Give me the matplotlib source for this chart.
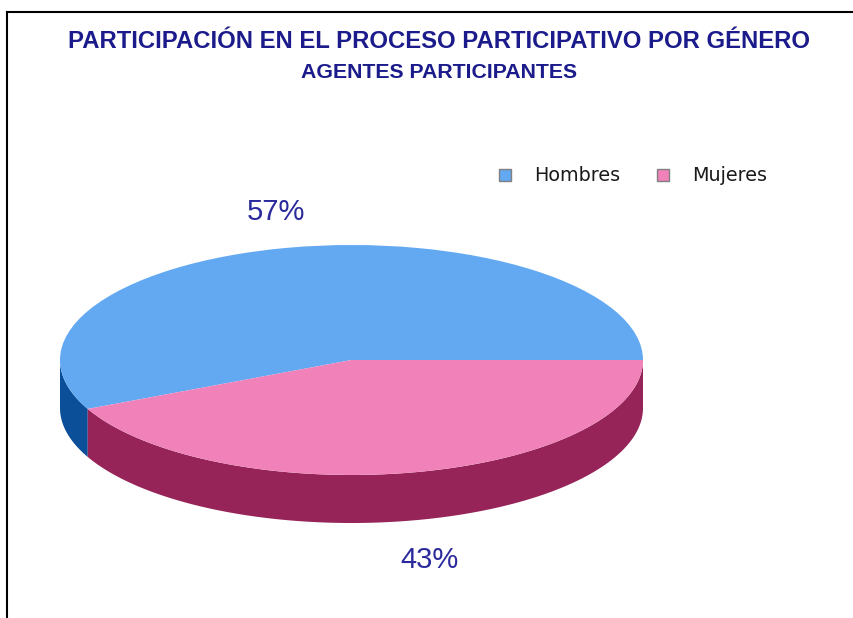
import numpy as np
import matplotlib
matplotlib.use('Agg')
import matplotlib.pyplot as plt
from matplotlib.patches import Polygon
from matplotlib.lines import Line2D

# data
labels = ['Hombres', 'Mujeres']
values = [57, 43]
top_colors = ['#62a9f2', '#f081b9']
side_colors = ['#0a4f97', '#962459']
pct_labels = ['57%', '43%']

W, H = 854, 618
fig = plt.figure(figsize=(W / 100, H / 100), dpi=100)
fig.patch.set_facecolor('white')

# pie ellipse in pixels: centre, radii, depth
cx, cy, rx, ry, depth = 351.5, 360, 291.5, 115, 48
ax = fig.add_axes([0, 0, 1, 1])

wedges, _ = ax.pie(values, colors=top_colors, startangle=0, counterclock=True,
                   wedgeprops=dict(linewidth=0, antialiased=True))
ax.set_aspect('auto')
ax.set_xlim(-cx / rx, (W - cx) / rx)
ax.set_ylim(-(H - cy) / ry, cy / ry)
ax.axis('off')

# side walls (front half only, 180..360 deg)
d = depth / ry
fracs = np.array(values) / np.sum(values)
edges = np.concatenate([[0], np.cumsum(fracs) * 360])
for i in range(len(values)):
    a1, a2 = max(edges[i], 180), min(edges[i + 1], 360)
    if a2 <= a1:
        continue
    t = np.radians(np.linspace(a1, a2, 200))
    top = np.column_stack([np.cos(t), np.sin(t)])
    bot = np.column_stack([np.cos(t[::-1]), np.sin(t[::-1]) - d])
    ax.add_patch(Polygon(np.vstack([top, bot]), closed=True,
                         facecolor=side_colors[i], edgecolor='none', zorder=0))

# percentage labels
pct_pos = [(276, 212), (430, 560)]
for txt, (px, py) in zip(pct_labels, pct_pos):
    fig.text(px / W, 1 - py / H, txt, ha='center', va='center', fontsize=21,
             color='#2a2a9c', family='Liberation Sans')

# title
fig.text(439 / W, 1 - 42 / H, 'PARTICIPACIÓN EN EL PROCESO PARTICIPATIVO POR GÉNERO',
         ha='center', va='center', fontsize=17.2, fontweight='bold', color='#1b1b8c',
         family='Liberation Sans')
fig.text(439 / W, 1 - 73 / H, 'AGENTES PARTICIPANTES',
         ha='center', va='center', fontsize=15.3, fontweight='bold', color='#1b1b8c',
         family='Liberation Sans')

# legend
fs = 13.8
fig.legend(wedges, labels, ncol=2, frameon=False, loc='center left',
           bbox_to_anchor=(499 / W, 1 - 176 / H), borderpad=0, borderaxespad=0,
           handlelength=0.62, handleheight=0.62, handletextpad=1.2,
           columnspacing=1.95, prop=dict(size=fs, family='DejaVu Sans'),
           labelcolor='#1a1a1a')
leg = fig.legends[0]
for h in leg.legend_handles:
    h.set_edgecolor('#808080')
    h.set_linewidth(1)

# border (left and top)
fig.add_artist(Line2D([7 / W, 7 / W], [0, 1 - 12 / H], color='black', lw=1.5,
                      transform=fig.transFigure))
fig.add_artist(Line2D([7 / W, 1], [1 - 12 / H, 1 - 12 / H], color='black', lw=1.5,
                      transform=fig.transFigure))

fig.savefig('out.png', dpi=100)
